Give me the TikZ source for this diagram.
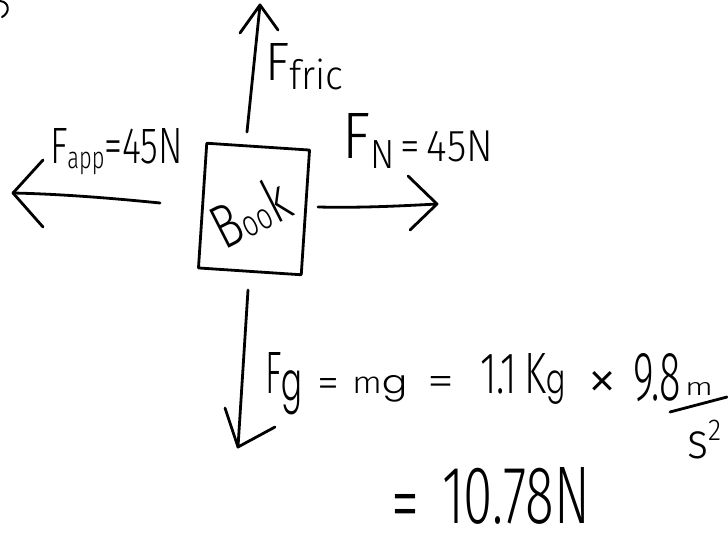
\documentclass[tikz,border=0pt]{standalone}
\usepackage{fontspec}
\usepackage{graphicx}
\IfFontExistsTF{Fira Sans Light}{\setmainfont{Fira Sans Light}}{\IfFontExistsTF{FiraSans-Light.otf}{\setmainfont{FiraSans-Light.otf}}{\setmainfont{Fira Sans}}}
\IfFontExistsTF{Poppins Light}{\newfontfamily\gfam{Poppins Light}}{\newfontfamily\gfam{DejaVu Sans}}
\newcommand{\fitto}[3]{\resizebox{#1pt}{#2pt}{#3}}
\newcommand{\sm}[2]{{\fontsize{#1}{#1}\selectfont #2}}
\newcommand{\sg}{{\gfam g}}
\begin{document}
\begin{tikzpicture}[x=1pt,y=-1pt,line width=2.8pt,line cap=round,line join=round,
  txt/.style={inner sep=0pt,outer sep=0pt,anchor=base west},
  sym/.style={inner sep=0pt,outer sep=0pt},
  bookbox/.style={draw,line width=2.8pt,minimum width=103pt,minimum height=125pt,inner sep=0pt}]
\fill[white] (0,0) rectangle (728,538);
\useasboundingbox (0,0) rectangle (728,538);

% cut-off mark in the corner
\draw[line width=2pt] (0,1) .. controls (10,2) and (10,13) .. (2,17);

% the book
\node[bookbox,rotate=-3.8] (box) at (254,209) {};
\node[sym,rotate=27] (booktxt) at (250,212) {\fitto{80}{46}{B\sm{6}{oo}k}};

% up arrow (friction)
\coordinate (upS) at (247,132);
\coordinate (upT) at (260,5);
\coordinate (upL) at (240,33);
\coordinate (upR) at (278,30);
\draw (upS) -- (upT);
\draw (upL) -- (upT) -- (upR);

% left arrow (applied)
\coordinate (lS) at (160,203);
\coordinate (lT) at (13,193);
\coordinate (lU) at (43,160);
\coordinate (lD) at (43,227);
\draw (lS) .. controls (110,198) and (60,194) .. (lT);
\draw (lU) -- (lT) -- (lD);

% right arrow (normal)
\coordinate (rS) at (318,207);
\coordinate (rT) at (437,204);
\coordinate (rU) at (408,176);
\coordinate (rD) at (410,230);
\draw (rS) .. controls (360,208) and (400,206) .. (rT);
\draw (rU) -- (rT) -- (rD);

% down arrow (gravity)
\coordinate (dS) at (248,290);
\coordinate (dT) at (238,447);
\coordinate (dL) at (225,408);
\coordinate (dR) at (275,427);
\draw (dS) -- (dT);
\draw (dL) -- (dT) -- (dR);

% labels
\node[txt] (ffric) at (265,80) {\fitto{78}{37}{F\raisebox{-1.8pt}{\sm{7.5}{fric}}}};
\node[txt] (fapp) at (50,163) {\fitto{133}{35}{F\raisebox{-1pt}{\sm{6}{app}}=45N}};
\node[txt] (fn) at (342,158) {\fitto{151}{45}{F\raisebox{-1.6pt}{\sm{6.2}{N}}\raisebox{-0.6pt}{\sm{6.8}{\,=\,45N}}}};

% equation, first line
\node[txt] (fg) at (265,393) {\fitto{37}{41}{F\raisebox{-1.2pt}{\sm{9}{\sg}}}};
\node[sym,anchor=north] (eqa) at (328,378) {\fitto{22}{19}{=}};
\node[txt] (mg) at (352,393) {\fitto{55}{18}{m\sm{10.5}{\sg}}};
\node[sym,anchor=north] (eqb) at (441,376) {\fitto{27}{19}{=}};
\node[txt] (kg) at (480,393) {\fitto{85}{40}{1.1\,K\sm{7}{\sg}}};
\node[sym] (times) at (602,385) {\fitto{30}{28}{×}};
\node[txt] (nine) at (633,400) {\fitto{48}{47}{9.8}};
\node[txt] (mnum) at (685,395) {\fitto{28}{13}{m}};
\coordinate (barL) at (670,412);
\coordinate (barR) at (727,397);
\draw (barL) -- (barR);
\node[txt] (sden) at (687,458) {\fitto{34}{38}{s\raisebox{3.5pt}{\sm{6}{2}}}};

% equation, second line
\node[sym,anchor=north] (eqc) at (405,494) {\fitto{28}{38}{=}};
\node[txt] (res) at (442,523) {\fitto{148}{56}{10.78N}};
\end{tikzpicture}
\end{document}
